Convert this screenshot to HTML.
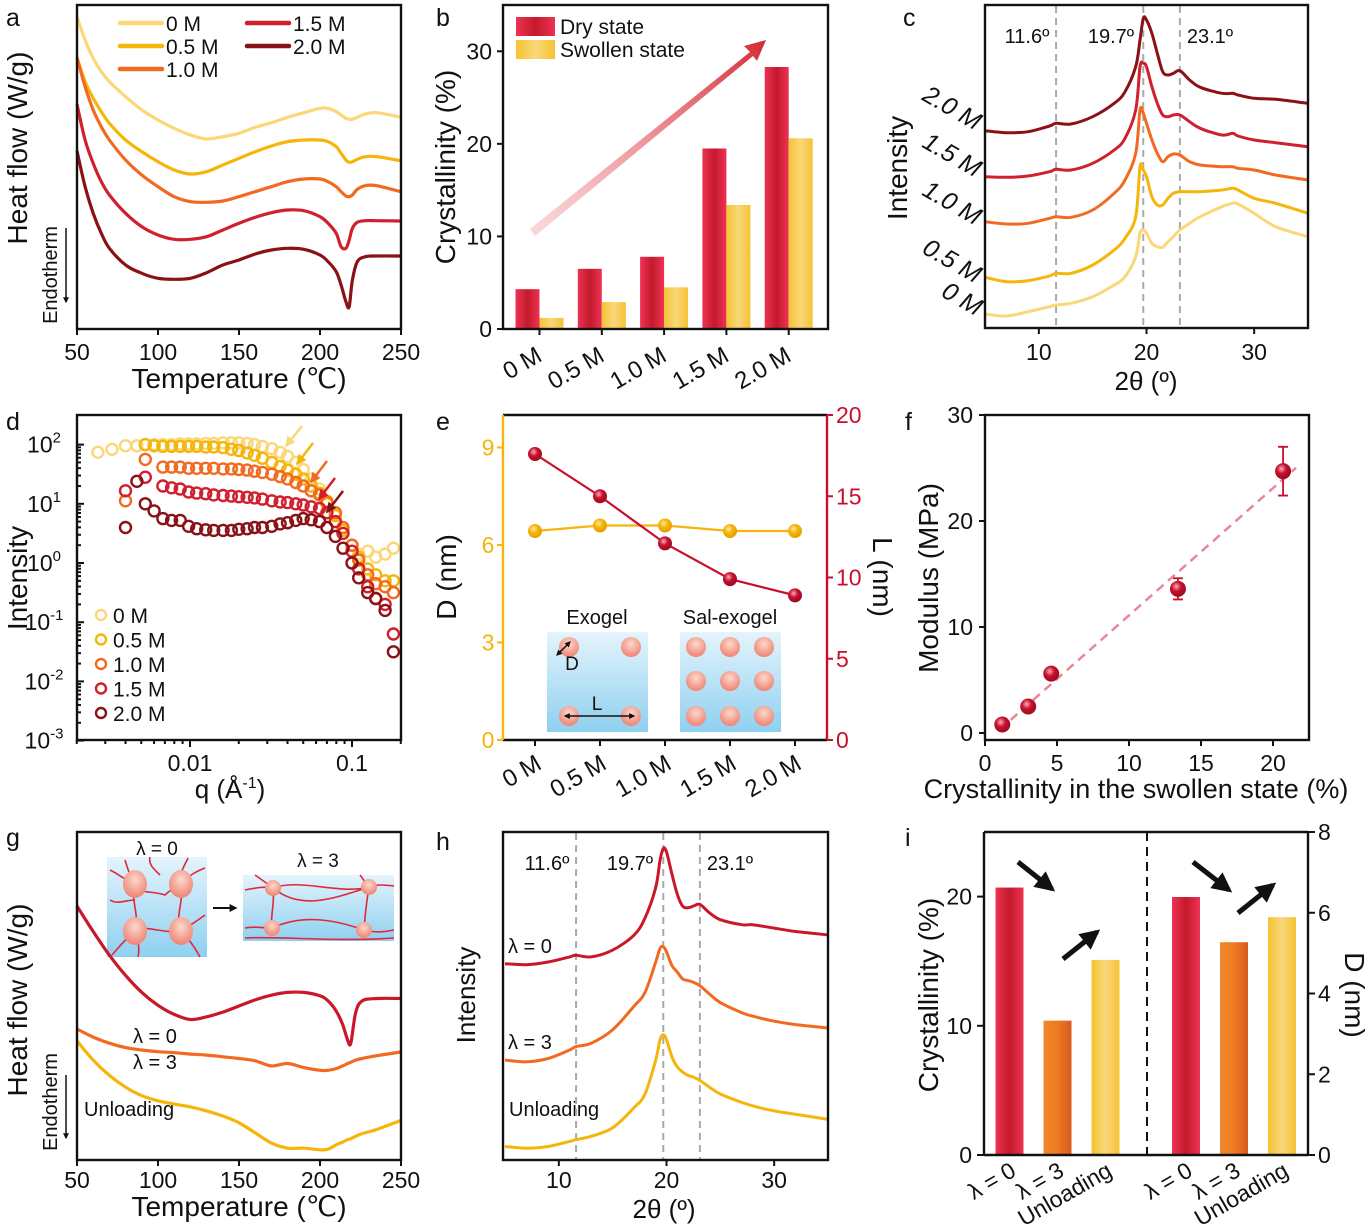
<!DOCTYPE html>
<html><head><meta charset="utf-8"><style>
html,body{margin:0;padding:0;background:#fff;}
svg{display:block;font-family:"Liberation Sans",Arial,sans-serif;}
text{fill:#111;}
</style></head><body>
<svg id="fig" width="1367" height="1230" viewBox="0 0 1367 1230" xmlns="http://www.w3.org/2000/svg">
<defs>
<linearGradient id="gRed" x1="0" x2="1" y1="0" y2="0"><stop offset="0" stop-color="#ee3253"/><stop offset="0.5" stop-color="#c31a2c"/><stop offset="1" stop-color="#ee3253"/></linearGradient>
<linearGradient id="gYel" x1="0" x2="1" y1="0" y2="0"><stop offset="0" stop-color="#f5c232"/><stop offset="0.5" stop-color="#f9d77a"/><stop offset="1" stop-color="#f5c232"/></linearGradient>
<linearGradient id="gOra" x1="0" x2="1" y1="0" y2="0"><stop offset="0" stop-color="#f08a2a"/><stop offset="0.5" stop-color="#f07a20"/><stop offset="1" stop-color="#d55a22"/></linearGradient>
<linearGradient id="gArrow" x1="0" x2="1" y1="1" y2="0"><stop offset="0" stop-color="#f4a0a8" stop-opacity="0.4"/><stop offset="1" stop-color="#d42a35"/></linearGradient>
<linearGradient id="gBlue" x1="0" x2="0" y1="0" y2="1"><stop offset="0" stop-color="#e4f4fc"/><stop offset="1" stop-color="#8fd0f0"/></linearGradient>
<radialGradient id="gBall" cx="0.5" cy="0.35" r="0.6"><stop offset="0" stop-color="#fbd9cc"/><stop offset="1" stop-color="#f08878"/></radialGradient>
<radialGradient id="gDotR" cx="0.4" cy="0.35" r="0.6"><stop offset="0" stop-color="#f6b0b8"/><stop offset="0.5" stop-color="#c8102e"/><stop offset="1" stop-color="#a00d20"/></radialGradient>
<radialGradient id="gDotY" cx="0.4" cy="0.35" r="0.6"><stop offset="0" stop-color="#fde9a8"/><stop offset="0.5" stop-color="#f5b50a"/><stop offset="1" stop-color="#e8a000"/></radialGradient>
<marker id="ah" viewBox="0 0 10 10" refX="8" refY="5" markerWidth="4" markerHeight="4" orient="auto-start-reverse"><path d="M0,0 L10,5 L0,10 z" fill="#111"/></marker>
</defs>

<text x="6" y="26" font-size="25">a</text>
<text x="436" y="26" font-size="25">b</text>
<text x="903" y="26" font-size="25">c</text>
<text x="6" y="430" font-size="25">d</text>
<text x="436" y="430" font-size="25">e</text>
<text x="905" y="430" font-size="25">f</text>
<text x="6" y="846" font-size="25">g</text>
<text x="436" y="850" font-size="25">h</text>
<text x="905" y="846" font-size="25">i</text>

<g>
<text transform="translate(27,148) rotate(-90)" text-anchor="middle" font-size="28">Heat flow (W/g)</text>
<text transform="translate(57,275) rotate(-90)" text-anchor="middle" font-size="20">Endotherm</text>
<line x1="66" y1="228" x2="66" y2="302" stroke="#111" stroke-width="1.5" marker-end="url(#ah)"/>
<text x="239" y="388" text-anchor="middle" font-size="28">Temperature (℃)</text>
</g>
<g>
<text transform="translate(455,167) rotate(-90)" text-anchor="middle" font-size="28">Crystallinity (%)</text>
<path d="M530,229 L750,52 L744,46 L766,40 L757,61 L753,56 L535,236 Z" fill="url(#gArrow)"/>
<rect x="516" y="17" width="39" height="19" fill="url(#gRed)"/>
<text x="560" y="34" font-size="21">Dry state</text>
<rect x="516" y="40" width="39" height="19" fill="url(#gYel)"/>
<text x="560" y="57" font-size="21">Swollen state</text>
</g>
<g>
<text transform="translate(907,168) rotate(-90)" text-anchor="middle" font-size="28">Intensity</text>
<text x="1146" y="390" text-anchor="middle" font-size="26">2θ (º)</text>
<text x="1027" y="43" text-anchor="middle" font-size="20">11.6º</text>
<text x="1111" y="43" text-anchor="middle" font-size="20">19.7º</text>
<text x="1210" y="43" text-anchor="middle" font-size="20">23.1º</text>
<text transform="translate(948,115) rotate(30)" text-anchor="middle" font-size="25" font-style="italic">2.0 M</text>
<text transform="translate(948,162) rotate(30)" text-anchor="middle" font-size="25" font-style="italic">1.5 M</text>
<text transform="translate(948,210) rotate(30)" text-anchor="middle" font-size="25" font-style="italic">1.0 M</text>
<text transform="translate(948,268) rotate(30)" text-anchor="middle" font-size="25" font-style="italic">0.5 M</text>
<text transform="translate(958,306) rotate(30)" text-anchor="middle" font-size="25" font-style="italic">0 M</text>
</g>
<g>
<text transform="translate(27,578) rotate(-90)" text-anchor="middle" font-size="28">Intensity</text>
<text x="230" y="798" text-anchor="middle" font-size="26">q (Å<tspan font-size="16" dy="-10">-1</tspan><tspan dy="10">)</tspan></text>
</g>
<g>
<text transform="translate(456,577) rotate(-90)" text-anchor="middle" font-size="28">D (nm)</text>
<text transform="translate(873,577) rotate(90)" text-anchor="middle" font-size="28">L (nm)</text>
<text x="597" y="624" text-anchor="middle" font-size="20">Exogel</text>
<text x="730" y="624" text-anchor="middle" font-size="20">Sal-exogel</text>
<rect x="547" y="632" width="101" height="100" fill="url(#gBlue)"/>
<rect x="680" y="632" width="101" height="100" fill="url(#gBlue)"/>
<g id="eBalls"></g>
<line x1="557" y1="655" x2="570" y2="642" stroke="#111" stroke-width="1.5" marker-end="url(#ah)" marker-start="url(#ah)"/>
<text x="572" y="670" text-anchor="middle" font-size="19">D</text>
<line x1="565" y1="716" x2="634" y2="716" stroke="#111" stroke-width="1.5" marker-end="url(#ah)" marker-start="url(#ah)"/>
<text x="597" y="710" text-anchor="middle" font-size="19">L</text>
</g>
<g>
<text transform="translate(938,578) rotate(-90)" text-anchor="middle" font-size="28">Modulus (MPa)</text>
<text x="1136" y="798" text-anchor="middle" font-size="27">Crystallinity in the swollen state (%)</text>
</g>
<g>
<text transform="translate(27,1000) rotate(-90)" text-anchor="middle" font-size="28">Heat flow (W/g)</text>
<text transform="translate(57,1102) rotate(-90)" text-anchor="middle" font-size="20">Endotherm</text>
<line x1="66" y1="1075" x2="66" y2="1138" stroke="#111" stroke-width="1.5" marker-end="url(#ah)"/>
<text x="239" y="1216" text-anchor="middle" font-size="28">Temperature (℃)</text>
<text x="133" y="1043" font-size="20">λ = 0</text>
<text x="133" y="1069" font-size="20">λ = 3</text>
<text x="84" y="1116" font-size="20">Unloading</text>
<text x="157" y="855" text-anchor="middle" font-size="19">λ = 0</text>
<text x="318" y="867" text-anchor="middle" font-size="19">λ = 3</text>
<g>
<rect x="107" y="857" width="100" height="100" fill="url(#gBlue)"/>
<g fill="none" stroke="#e0283a" stroke-width="1.6">
<path d="M110,870 C120,875 125,880 135,884 M135,884 C140,895 150,890 165,895 C170,890 175,888 180,884 M180,884 C190,875 195,872 205,868 M125,860 C128,870 130,876 135,884 M180,884 C178,875 185,865 188,858 M135,884 C130,900 140,915 135,930 M180,884 C185,900 175,915 180,930 M135,930 C150,925 165,935 180,930 M135,930 C125,940 118,948 112,955 M135,930 C138,940 140,948 138,957 M180,930 C190,940 195,948 200,957 M180,930 C192,925 198,920 205,915 M110,900 C118,905 125,900 135,900 M150,857 C148,865 155,870 160,875"/>
</g>
<ellipse cx="135" cy="884" rx="12" ry="14" fill="url(#gBall)"/><ellipse cx="181" cy="884" rx="12" ry="14" fill="url(#gBall)"/><ellipse cx="135" cy="931" rx="12" ry="14" fill="url(#gBall)"/><ellipse cx="181" cy="931" rx="12" ry="14" fill="url(#gBall)"/>
</g>
<line x1="213" y1="908" x2="236" y2="908" stroke="#111" stroke-width="2" marker-end="url(#ah)"/>
<g>
<rect x="243" y="875" width="151" height="66" fill="url(#gBlue)"/>
<g fill="none" stroke="#e0283a" stroke-width="1.6">
<path d="M245,890 C255,888 265,886 273,888 M273,888 C300,878 340,895 369,887 M369,887 C378,884 385,885 394,886 M273,888 C275,905 270,915 272,928 M369,887 C366,905 365,915 364,930 M272,928 C300,915 330,918 364,930 M245,928 C255,926 262,928 272,928 M364,930 C375,933 385,932 394,930 M245,938 C280,936 330,942 394,938 M273,888 C300,910 330,900 369,887 M255,875 C262,880 268,884 273,888 M360,875 C364,880 366,884 369,887"/>
</g>
<circle cx="273" cy="888" r="8" fill="url(#gBall)"/><circle cx="369" cy="887" r="8" fill="url(#gBall)"/><circle cx="272" cy="928" r="8" fill="url(#gBall)"/><circle cx="364" cy="930" r="8" fill="url(#gBall)"/>
</g>
</g>
<g>
<text transform="translate(475,995) rotate(-90)" text-anchor="middle" font-size="26">Intensity</text>
<text x="664" y="1218" text-anchor="middle" font-size="26">2θ (º)</text>
<text x="547" y="870" text-anchor="middle" font-size="20">11.6º</text>
<text x="630" y="870" text-anchor="middle" font-size="20">19.7º</text>
<text x="730" y="870" text-anchor="middle" font-size="20">23.1º</text>
<text x="508" y="953" font-size="20">λ = 0</text>
<text x="508" y="1049" font-size="20">λ = 3</text>
<text x="509" y="1116" font-size="20">Unloading</text>
</g>
<g>
<text transform="translate(938,995) rotate(-90)" text-anchor="middle" font-size="28">Crystallinity (%)</text>
<text transform="translate(1345,995) rotate(90)" text-anchor="middle" font-size="28">D (nm)</text>
<line x1="1147" y1="832" x2="1147" y2="1155" stroke="#111" stroke-width="2" stroke-dasharray="9,6"/>
</g>
<g id="plots"></g>
</svg>
<script>
// ---------- DATA ----------
const aTemps = [50,55,60,65,70,80,90,100,110,120,130,140,150,160,170,180,190,200,205,210,213,216,218,220,223,228,235,250];
const aHF0 = [9.50,8.80,8.25,7.85,7.55,7.10,6.70,6.40,6.15,5.95,5.83,5.90,6.00,6.18,6.32,6.48,6.62,6.75,6.75,6.65,6.55,6.45,6.42,6.42,6.48,6.58,6.62,6.48];
const aHF05 = [8.27,7.55,7.05,6.65,6.30,5.80,5.45,5.15,4.90,4.78,4.85,5.05,5.25,5.45,5.62,5.75,5.80,5.80,5.75,5.60,5.40,5.20,5.13,5.15,5.22,5.30,5.30,5.18];
const aHF10 = [8.27,7.40,6.70,6.20,5.80,5.20,4.75,4.40,4.10,3.95,3.93,3.97,4.10,4.25,4.40,4.55,4.63,4.63,4.55,4.40,4.25,4.12,4.10,4.15,4.32,4.43,4.43,4.25];
const aHF15 = [6.87,5.80,5.10,4.55,4.15,3.60,3.20,2.95,2.82,2.82,2.90,3.10,3.30,3.48,3.62,3.70,3.68,3.50,3.30,3.00,2.60,2.55,2.80,3.15,3.33,3.38,3.38,3.37];
const aHF20 = [5.47,4.40,3.60,3.00,2.55,2.05,1.80,1.65,1.62,1.65,1.82,2.05,2.20,2.38,2.50,2.55,2.52,2.35,2.15,1.85,1.45,0.95,0.80,1.60,2.15,2.30,2.32,2.32];
const tempTicks = [50,100,150,200,250];
const bCats = ["0 M","0.5 M","1.0 M","1.5 M","2.0 M"];
const bDry = [4.3,6.5,7.8,19.5,28.3];
const bSwollen = [1.2,2.9,4.5,13.4,20.6];
const bTicks = [0,10,20,30];
const cTheta = [5,7,9,11,11.6,13,15,17,18,19,19.4,19.7,20,20.5,21,21.5,22,22.5,23.1,24,25,27,28,28.5,30,32,35];
const cI20 = [6.08,6.02,6.05,6.22,6.30,6.28,6.50,6.90,7.25,8.00,8.80,9.45,9.40,9.00,8.40,7.85,7.75,7.80,7.88,7.60,7.38,7.20,7.20,7.15,7.05,7.02,6.90];
const cI15 = [4.70,4.68,4.72,4.85,4.92,4.90,5.10,5.50,5.85,6.70,8.00,8.10,8.00,7.40,6.90,6.55,6.50,6.55,6.55,6.35,6.15,5.95,6.00,5.92,5.80,5.72,5.60];
const cI10 = [3.35,3.28,3.30,3.45,3.50,3.48,3.70,4.20,4.60,5.40,6.70,6.60,6.30,5.80,5.40,5.15,5.30,5.38,5.35,5.15,5.05,5.00,5.00,4.95,4.90,4.75,4.60];
const cI05 = [1.68,1.55,1.58,1.72,1.80,1.80,2.05,2.50,2.85,3.50,5.00,4.90,4.70,4.10,3.85,3.85,4.05,4.20,4.25,4.25,4.25,4.30,4.35,4.30,4.05,3.90,3.60];
const cI0 = [0.58,0.52,0.65,0.80,0.85,0.90,1.10,1.45,1.70,2.30,3.00,3.10,3.00,2.70,2.60,2.58,2.75,2.90,3.10,3.30,3.50,3.80,3.90,3.88,3.60,3.20,2.90];
const peakAngles = [11.6,19.7,23.1];
const thetaTicks = [10,20,30];
const dQ = [0.0027,0.0033,0.0040,0.0047,0.0053,0.0060,0.0068,0.0077,0.0087,0.0098,0.011,0.0125,0.014,0.016,0.018,0.020,0.0225,0.025,0.028,0.032,0.036,0.040,0.045,0.050,0.056,0.063,0.070,0.079,0.088,0.10,0.11,0.125,0.14,0.16,0.18];
const dLog0 = [1.87,1.92,1.98,1.98,2.0,2.0,2.0,2.0,2.01,2.01,2.01,2.02,2.02,2.03,2.03,2.03,2.02,2.0,1.97,1.93,1.87,1.8,1.7,1.58,1.42,1.25,1.05,0.8,0.55,0.3,0.15,0.2,0.1,0.15,0.25];
const dLog05 = [null,null,null,null,2.0,1.98,1.97,1.97,1.97,1.97,1.97,1.96,1.96,1.95,1.92,1.9,1.86,1.82,1.77,1.7,1.63,1.57,1.5,1.42,1.3,1.18,1.0,0.8,0.55,0.3,0.1,-0.1,-0.2,-0.3,-0.3];
const dLog10 = [null,null,1.05,null,1.75,null,1.62,1.62,1.62,1.6,1.6,1.6,1.6,1.59,1.59,1.58,1.57,1.55,1.53,1.5,1.46,1.42,1.36,1.3,1.22,1.15,1.03,0.85,0.6,0.3,0.05,-0.2,-0.35,-0.4,-0.5];
const dLog15 = [null,null,1.22,null,1.45,null,1.3,1.27,1.25,1.2,1.18,1.17,1.15,1.14,1.13,1.12,1.11,1.1,1.08,1.05,1.03,1.02,1.0,0.98,0.95,0.92,0.85,0.7,0.5,0.2,-0.1,-0.4,-0.6,-0.7,-1.2];
const dLog20 = [null,null,0.6,1.38,1.0,0.88,0.75,0.72,0.72,0.62,0.58,0.56,0.55,0.55,0.55,0.57,0.58,0.6,0.6,0.62,0.66,0.68,0.72,0.75,0.73,0.7,0.6,0.45,0.25,0.0,-0.25,-0.5,-0.6,-0.8,-1.5];
const dYTickExp = [2,1,0,-1,-2,-3];
const dXTicks = [0.01,0.1];
const eCats = ["0 M","0.5 M","1.0 M","1.5 M","2.0 M"];
const eD = [6.43,6.6,6.6,6.43,6.43];
const eL = [17.6,15.0,12.1,9.9,8.9];
const eLeftTicks = [0,3,6,9];
const eRightTicks = [0,5,10,15,20];
const fCryst = [1.2,3.0,4.6,13.4,20.7];
const fModulus = [0.8,2.5,5.6,13.6,24.7];
const fErr = [0.3,0.3,0.4,1.0,2.3];
const fFitSlope = 1.2;
const fFitIntercept = -0.9;
const fXTicks = [0,5,10,15,20];
const fYTicks = [0,10,20,30];
const gTemps = [50,60,70,80,90,100,110,120,130,140,150,160,170,180,190,200,205,210,214,217,219,222,226,235,250];
const gHFL0 = [7.50,6.75,6.05,5.45,4.95,4.57,4.30,4.15,4.23,4.37,4.55,4.73,4.87,4.95,4.95,4.85,4.70,4.40,4.00,3.55,3.45,4.35,4.70,4.77,4.77];
const gHFL3 = [3.87,3.63,3.45,3.32,3.25,3.20,3.17,3.13,3.10,3.05,3.00,2.93,2.78,2.85,2.73,2.65,2.65,2.70,2.78,2.85,2.89,2.95,3.00,3.08,3.19];
const gHFUn = [3.52,2.95,2.50,2.15,1.90,1.75,1.65,1.57,1.45,1.30,1.10,0.80,0.50,0.35,0.35,0.30,0.32,0.45,0.53,0.60,0.63,0.70,0.78,0.90,1.17];
const hTheta = [5,7,9,11,11.6,13,15,17,18,19,19.4,19.7,20,20.5,21,21.5,22,22.5,23.1,24,25,27,28,30,32,35];
const hIL0 = [5.80,5.77,5.85,6.00,6.05,6.00,6.20,6.65,7.15,8.05,8.85,9.20,9.10,8.45,7.85,7.50,7.45,7.50,7.55,7.30,7.10,6.95,6.95,6.85,6.75,6.65];
const hIL3 = [2.95,2.90,3.00,3.25,3.35,3.45,3.85,4.55,4.95,5.85,6.25,6.30,6.15,5.75,5.55,5.35,5.30,5.25,5.15,4.90,4.65,4.35,4.25,4.10,4.00,3.90];
const hIUn = [0.40,0.35,0.40,0.55,0.60,0.70,0.95,1.55,1.95,2.95,3.55,3.70,3.55,3.05,2.75,2.60,2.50,2.45,2.35,2.15,1.95,1.70,1.60,1.45,1.35,1.20];
const iCats = ["λ = 0","λ = 3","Unloading"];
const iCryst = [20.7,10.4,15.1];
const iD = [6.39,5.27,5.89];
const iLeftTicks = [0,10,20];
const iRightTicks = [0,2,4,6,8];

// ---------- HELPERS ----------
const NS = "http://www.w3.org/2000/svg";
const root = document.getElementById('plots');
function nm(el, name, inter) {
  
  
  return el;
}
function mk(tag, attrs, parent) {
  const el = document.createElementNS(NS, tag);
  for (const k in attrs) el.setAttribute(k, attrs[k]);
  (parent || root).appendChild(el);
  return el;
}
function lin(d0, d1, r0, r1) { return v => r0 + (v - d0) / (d1 - d0) * (r1 - r0); }
function curve(xs, ys, sx, sy, color, name, w) {
  const P = xs.map((x, i) => [sx(x), sy(ys[i])]);
  let d = 'M' + P[0][0].toFixed(1) + ',' + P[0][1].toFixed(1);
  for (let i = 0; i < P.length - 1; i++) {
    const p0 = P[Math.max(i - 1, 0)], p1 = P[i], p2 = P[i + 1], p3 = P[Math.min(i + 2, P.length - 1)];
    const c1x = p1[0] + (p2[0] - p0[0]) / 6, c1y = p1[1] + (p2[1] - p0[1]) / 6;
    const c2x = p2[0] - (p3[0] - p1[0]) / 6, c2y = p2[1] - (p3[1] - p1[1]) / 6;
    d += 'C' + c1x.toFixed(1) + ',' + c1y.toFixed(1) + ' ' + c2x.toFixed(1) + ',' + c2y.toFixed(1) + ' ' + p2[0].toFixed(1) + ',' + p2[1].toFixed(1);
  }
  const p = mk('path', {d: d, fill: 'none', stroke: color, 'stroke-width': w || 3.2, 'stroke-linejoin': 'round'});
  nm(p, name);
  return p;
}
function txt(x, y, s, size, anchor, extra, name) {
  const t = mk('text', Object.assign({x: x, y: y, 'font-size': size, 'text-anchor': anchor || 'middle'}, extra || {}));
  t.textContent = s;
  nm(t, name);
  return t;
}
function tick(x1, y1, x2, y2, color, name) {
  const l = mk('line', {x1: x1, y1: y1, x2: x2, y2: y2, stroke: color || '#111', 'stroke-width': 2});
  nm(l, name);
}
function frame(x, y, w, h, name) {
  const r = mk('rect', {x: x, y: y, width: w, height: h, fill: 'none', stroke: '#111', 'stroke-width': 2.4});
  nm(r, name);
}
function dashV(x, y1, y2, name) {
  const l = mk('line', {x1: x, y1: y1, x2: x, y2: y2, stroke: '#aaa', 'stroke-width': 2, 'stroke-dasharray': '7,5'});
  nm(l, name);
}
const C0 = '#fad778', C05 = '#f5b50a', C10 = '#f26a21', C15 = '#d0202e', C20 = '#8a1216';
const TS = 23;

// ---------- PANEL A ----------
{
  const sx = lin(50, 250, 77, 401), sy = lin(0.1, 9.85, 330, 5);
  curve(aTemps, aHF0, sx, sy, C0, 'a-curve-0m');
  curve(aTemps, aHF05, sx, sy, C05, 'a-curve-0.5m');
  curve(aTemps, aHF10, sx, sy, C10, 'a-curve-1.0m');
  curve(aTemps, aHF15, sx, sy, C15, 'a-curve-1.5m');
  curve(aTemps, aHF20, sx, sy, C20, 'a-curve-2.0m');
  frame(77, 5, 324, 324, 'a-plot-frame');
  tempTicks.forEach(t => { tick(sx(t), 329, sx(t), 335, '#111', 'a-x-tick'); txt(sx(t), 360, t, TS, 'middle', {}, 'a-x-tick-label'); });
  const leg = [[C0,'0 M',120,23],[C05,'0.5 M',120,46],[C10,'1.0 M',120,69],[C15,'1.5 M',247,23],[C20,'2.0 M',247,46]];
  leg.forEach(L => {
    const l = mk('line', {x1: L[2], y1: L[3], x2: L[2] + 42, y2: L[3], stroke: L[0], 'stroke-width': 4.5, 'stroke-linecap': 'round'});
    nm(l, 'a-legend-line');
    txt(L[2] + 46, L[3] + 8, L[1], 21, 'start', {}, 'a-legend-label');
  });
}
// ---------- PANEL B ----------
{
  const sy = lin(0, 35, 329, 5);
  const cx = i => 539.5 + i * 62.3;
  bCats.forEach((c, i) => {
    const r1 = mk('rect', {x: cx(i) - 24, y: sy(bDry[i]), width: 24, height: sy(0) - sy(bDry[i]), fill: 'url(#gRed)'});
    nm(r1, 'b-bar-dry');
    const r2 = mk('rect', {x: cx(i), y: sy(bSwollen[i]), width: 24, height: sy(0) - sy(bSwollen[i]), fill: 'url(#gYel)'});
    nm(r2, 'b-bar-swollen');
    tick(cx(i), 329, cx(i), 335, '#111', 'b-x-tick');
    txt(cx(i) + 4, 360, c, 24, 'end', {transform: 'rotate(-30 ' + (cx(i) + 4) + ' 360)'}, 'b-x-tick-label');
  });
  frame(503, 5, 325, 324, 'b-plot-frame');
  bTicks.forEach(t => { tick(497, sy(t), 503, sy(t), '#111', 'b-y-tick'); txt(492, sy(t) + 8, t, TS, 'end', {}, 'b-y-tick-label'); });
}
// ---------- PANEL C ----------
{
  const sx = lin(5, 35, 985, 1308), sy = lin(0.1, 9.85, 330, 5);
  peakAngles.forEach(a => dashV(sx(a), 6, 328, 'c-peak-guide'));
  curve(cTheta, cI0, sx, sy, C0, 'c-curve-0m', 3);
  curve(cTheta, cI05, sx, sy, C05, 'c-curve-0.5m', 3);
  curve(cTheta, cI10, sx, sy, C10, 'c-curve-1.0m', 3);
  curve(cTheta, cI15, sx, sy, C15, 'c-curve-1.5m', 3);
  curve(cTheta, cI20, sx, sy, C20, 'c-curve-2.0m', 3);
  frame(985, 5, 323, 323, 'c-plot-frame');
  thetaTicks.forEach(t => { tick(sx(t), 328, sx(t), 334, '#111', 'c-x-tick'); txt(sx(t), 360, t, TS, 'middle', {}, 'c-x-tick-label'); });
}
// ---------- PANEL D ----------
{
  const sx = q => 190 + (Math.log10(q) + 2) * 162;
  const sy = l => 563 - l * 59.2;
  const series = [[dLog0, C0, '0m'], [dLog05, C05, '0.5m'], [dLog10, C10, '1.0m'], [dLog15, C15, '1.5m'], [dLog20, C20, '2.0m']];
  series.forEach(S => {
    S[0].forEach((v, i) => {
      if (v === null) return;
      const c = mk('circle', {cx: sx(dQ[i]).toFixed(1), cy: sy(v).toFixed(1), r: 5.5, fill: 'none', stroke: S[1], 'stroke-width': 2.4});
      nm(c, 'd-point-' + S[2]);
    });
  });
  const arrows = [[302,426,286,446,C0],[313,443,297,464,C05],[327,461,311,482,C10],[335,478,319,499,C15],[343,491,327,512,C20]];
  arrows.forEach(A => {
    const l = mk('line', {x1: A[0], y1: A[1], x2: A[2], y2: A[3], stroke: A[4], 'stroke-width': 2.5});
    nm(l, 'd-peak-arrow');
    const h = mk('path', {d: 'M' + A[2] + ',' + A[3] + ' l2,-9 l6,5 z', fill: A[4], stroke: A[4], 'stroke-width': 1.5});
    nm(h, 'd-peak-arrowhead');
  });
  frame(77, 415, 324, 325, 'd-plot-frame');
  dYTickExp.forEach(e => {
    tick(77, sy(e), 84, sy(e), '#111', 'd-y-tick');
    const t = mk('text', {x: 44, y: sy(e) + 8, 'font-size': 23, 'text-anchor': 'middle'});
    t.innerHTML = '10<tspan font-size="15" dy="-10">' + e + '</tspan>';
    nm(t, 'd-y-tick-label');
    if (e > -3) for (let k = 2; k < 10; k++) { const yy = sy(e - 1 + Math.log10(k)); tick(77, yy, 81, yy, '#111', 'd-y-minor-tick'); }
  });
  dXTicks.forEach(q => { tick(sx(q), 740, sx(q), 747, '#111', 'd-x-tick'); txt(sx(q), 771, q, TS, 'middle', {}, 'd-x-tick-label'); });
  [0.002,0.003,0.004,0.005,0.006,0.007,0.008,0.009,0.02,0.03,0.04,0.05,0.06,0.07,0.08,0.09,0.2].forEach(q => tick(sx(q), 740, sx(q), 744, '#111', 'd-x-minor-tick'));
  const leg = [[C0,'0 M'],[C05,'0.5 M'],[C10,'1.0 M'],[C15,'1.5 M'],[C20,'2.0 M']];
  leg.forEach((L, i) => {
    const y = 615 + i * 24.5;
    const c = mk('circle', {cx: 101, cy: y, r: 5, fill: 'none', stroke: L[0], 'stroke-width': 2.4});
    nm(c, 'd-legend-marker');
    txt(113, y + 8, L[1], 21, 'start', {}, 'd-legend-label');
  });
}
// ---------- PANEL E ----------
{
  const cx = i => 535 + i * 65;
  const yl = lin(0, 10, 740, 415), yr = lin(0, 20, 740, 415);
  const balls = document.getElementById('eBalls');
  [[569,647],[631,647],[569,716],[631,716]].forEach(p => { const c = mk('circle', {cx: p[0], cy: p[1], r: 10, fill: 'url(#gBall)'}, balls); nm(c, 'e-inset-crystallite'); });
  [696,730,764].forEach(x => [647,681,716].forEach(y => { const c = mk('circle', {cx: x, cy: y, r: 10, fill: 'url(#gBall)'}, balls); nm(c, 'e-inset-crystallite'); }));
  const idx = eCats.map((c, i) => i);
  let dd = '', dl = '';
  idx.forEach(i => { dd += (i ? 'L' : 'M') + cx(i) + ',' + yl(eD[i]); dl += (i ? 'L' : 'M') + cx(i) + ',' + yr(eL[i]); });
  const pd = mk('path', {d: dd, fill: 'none', stroke: '#f5b50a', 'stroke-width': 2.2}); nm(pd, 'e-line-d');
  const pl = mk('path', {d: dl, fill: 'none', stroke: '#c8102e', 'stroke-width': 2.2}); nm(pl, 'e-line-l');
  eD.forEach((v, i) => { const c = mk('circle', {cx: cx(i), cy: yl(v), r: 7, fill: 'url(#gDotY)'}); nm(c, 'e-point-d'); });
  eL.forEach((v, i) => { const c = mk('circle', {cx: cx(i), cy: yr(v), r: 7, fill: 'url(#gDotR)'}); nm(c, 'e-point-l'); });
  const top = mk('line', {x1: 503, y1: 415, x2: 827, y2: 415, stroke: '#111', 'stroke-width': 2.4}); nm(top, 'e-top-border');
  const bot = mk('line', {x1: 503, y1: 740, x2: 827, y2: 740, stroke: '#111', 'stroke-width': 2.4}); nm(bot, 'e-x-axis');
  const la = mk('line', {x1: 503, y1: 415, x2: 503, y2: 740, stroke: '#f5b50a', 'stroke-width': 2.4}); nm(la, 'e-left-axis');
  const ra = mk('line', {x1: 827, y1: 415, x2: 827, y2: 740, stroke: '#c8102e', 'stroke-width': 2.4}); nm(ra, 'e-right-axis');
  eLeftTicks.forEach(t => { tick(497, yl(t), 503, yl(t), '#f5b50a', 'e-left-tick'); txt(488, yl(t) + 8, t, TS, 'middle', {style: 'fill:#f5b50a'}, 'e-left-tick-label'); });
  eRightTicks.forEach(t => { tick(827, yr(t), 833, yr(t), '#c8102e', 'e-right-tick'); txt(836, yr(t) + 8, t, TS, 'start', {style: 'fill:#c8102e'}, 'e-right-tick-label'); });
  eCats.forEach((c, i) => { tick(cx(i), 740, cx(i), 746, '#111', 'e-x-tick'); txt(cx(i) + 8, 768, c, 24, 'end', {transform: 'rotate(-30 ' + (cx(i) + 8) + ' 768)'}, 'e-x-tick-label'); });
}
// ---------- PANEL F ----------
{
  const sx = lin(0, 22.5, 985, 1309), sy = lin(0, 30, 733, 415);
  const fit = mk('line', {x1: sx(1), y1: sy(fFitSlope * 1 + fFitIntercept), x2: sx(21.6), y2: sy(fFitSlope * 21.6 + fFitIntercept), stroke: '#e8879a', 'stroke-width': 2.5, 'stroke-dasharray': '9,6'});
  nm(fit, 'f-fit-line');
  fCryst.forEach((x, i) => {
    const e = mk('path', {d: 'M' + (sx(x) - 5) + ',' + sy(fModulus[i] + fErr[i]) + 'h10M' + sx(x) + ',' + sy(fModulus[i] + fErr[i]) + 'V' + sy(fModulus[i] - fErr[i]) + 'M' + (sx(x) - 5) + ',' + sy(fModulus[i] - fErr[i]) + 'h10', stroke: '#c8102e', 'stroke-width': 1.8, fill: 'none'});
    nm(e, 'f-error-bar');
    const c = mk('circle', {cx: sx(x), cy: sy(fModulus[i]), r: 8, fill: 'url(#gDotR)'});
    nm(c, 'f-point');
  });
  frame(985, 415, 324, 325, 'f-plot-frame');
  fXTicks.forEach(t => { tick(sx(t), 740, sx(t), 746, '#111', 'f-x-tick'); txt(sx(t), 771, t, TS, 'middle', {}, 'f-x-tick-label'); });
  fYTicks.forEach(t => { tick(979, sy(t), 985, sy(t), '#111', 'f-y-tick'); txt(973, sy(t) + 8, t, TS, 'end', {}, 'f-y-tick-label'); });
}
// ---------- PANEL G ----------
{
  const sx = lin(50, 250, 77, 401), sy = lin(0, 9.69, 1160, 832);
  curve(gTemps, gHFL0, sx, sy, '#c8182a', 'g-curve-lambda0');
  curve(gTemps, gHFL3, sx, sy, C10, 'g-curve-lambda3');
  curve(gTemps, gHFUn, sx, sy, C05, 'g-curve-unloading');
  frame(77, 832, 324, 328, 'g-plot-frame');
  tempTicks.forEach(t => { tick(sx(t), 1160, sx(t), 1166, '#111', 'g-x-tick'); txt(sx(t), 1188, t, TS, 'middle', {}, 'g-x-tick-label'); });
}
// ---------- PANEL H ----------
{
  const sx = lin(5, 35, 505, 828), sy = lin(0, 9.69, 1160, 832);
  peakAngles.forEach(a => dashV(sx(a), 833, 1159, 'h-peak-guide'));
  curve(hTheta, hIL0, sx, sy, '#c8182a', 'h-curve-lambda0', 3);
  curve(hTheta, hIL3, sx, sy, C10, 'h-curve-lambda3', 3);
  curve(hTheta, hIUn, sx, sy, C05, 'h-curve-unloading', 3);
  frame(503, 832, 325, 328, 'h-plot-frame');
  thetaTicks.forEach(t => { tick(sx(t), 1160, sx(t), 1166, '#111', 'h-x-tick'); txt(sx(t), 1188, t, TS, 'middle', {}, 'h-x-tick-label'); });
}
// ---------- PANEL I ----------
{
  const yl = lin(0, 25, 1155, 832), yr = lin(0, 8, 1155, 832);
  const fills = ['url(#gRed)', 'url(#gOra)', 'url(#gYel)'];
  iCats.forEach((c, i) => {
    const x = 1009.5 + i * 48;
    const r = mk('rect', {x: x - 14, y: yl(iCryst[i]), width: 28, height: yl(0) - yl(iCryst[i]), fill: fills[i]});
    nm(r, 'i-bar-crystallinity');
    txt(x + 8, 1175, c, 23, 'end', {transform: 'rotate(-30 ' + (x + 8) + ' 1175)'}, 'i-x-tick-label');
  });
  iCats.forEach((c, i) => {
    const x = 1186 + i * 48;
    const r = mk('rect', {x: x - 14, y: yr(iD[i]), width: 28, height: yr(0) - yr(iD[i]), fill: fills[i]});
    nm(r, 'i-bar-d');
    txt(x + 8, 1175, c, 23, 'end', {transform: 'rotate(-30 ' + (x + 8) + ' 1175)'}, 'i-x-tick-label');
  });
  const top = mk('line', {x1: 984, y1: 832, x2: 1308, y2: 832, stroke: '#111', 'stroke-width': 2.4}); nm(top, 'i-top-border');
  const bot = mk('line', {x1: 984, y1: 1155, x2: 1308, y2: 1155, stroke: '#111', 'stroke-width': 2.4}); nm(bot, 'i-x-axis');
  const la = mk('line', {x1: 984, y1: 832, x2: 984, y2: 1155, stroke: '#111', 'stroke-width': 2.4}); nm(la, 'i-left-axis');
  const ra = mk('line', {x1: 1308, y1: 832, x2: 1308, y2: 1155, stroke: '#111', 'stroke-width': 2.4}); nm(ra, 'i-right-axis');
  iLeftTicks.forEach(t => { tick(977, yl(t), 984, yl(t), '#111', 'i-left-tick'); txt(972, yl(t) + 8, t, TS, 'end', {}, 'i-left-tick-label'); });
  iRightTicks.forEach(t => { tick(1308, yr(t), 1315, yr(t), '#111', 'i-right-tick'); txt(1318, yr(t) + 8, t, TS, 'start', {}, 'i-right-tick-label'); });
  const arr = [[1018,862,1052,889],[1063,959,1097,932],[1193,862,1229,890],[1238,913,1273,885]];
  arr.forEach(A => {
    const l = mk('line', {x1: A[0], y1: A[1], x2: A[2], y2: A[3], stroke: '#111', 'stroke-width': 5, 'marker-end': 'url(#ah)'});
    nm(l, 'i-trend-arrow');
  });
}
</script>
</body></html>
